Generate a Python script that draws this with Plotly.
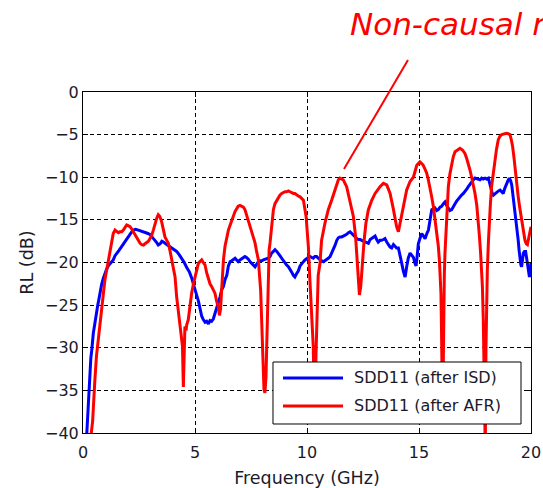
import plotly.graph_objects as go

# SDD11 after ISD (blue): frequency in GHz, return loss in dB
isd_freq = [0.15, 0.2, 0.24, 0.28, 0.31, 0.35, 0.39, 0.43, 0.46, 0.52, 0.56, 0.61, 0.66, 0.71, 0.76, 0.83,
            0.9, 0.98, 1.05, 1.13, 1.2, 1.28, 1.35, 1.43, 1.5, 1.6, 1.73, 1.85, 1.95, 2.05, 2.15, 2.25,
            2.35, 2.47, 2.6, 2.77, 2.9, 2.99, 3.1, 3.21, 3.3, 3.36, 3.45, 3.52, 3.59, 3.67, 3.74, 3.85,
            3.96, 4.07, 4.18, 4.3, 4.4, 4.52, 4.63, 4.75, 4.85, 4.93, 5.0, 5.07, 5.15, 5.22, 5.3, 5.37,
            5.45, 5.52, 5.6, 5.67, 5.74, 5.82, 5.89, 5.97, 6.04, 6.12, 6.19, 6.27, 6.34, 6.42, 6.49, 6.57,
            6.64, 6.72, 6.79, 6.86, 6.93, 7.01, 7.08, 7.16, 7.23, 7.3, 7.38, 7.45, 7.53, 7.6, 7.68, 7.75,
            7.83, 7.9, 7.98, 8.05, 8.13, 8.2, 8.27, 8.35, 8.42, 8.5, 8.57, 8.65, 8.72, 8.79, 8.87, 8.94,
            9.02, 9.09, 9.17, 9.24, 9.31, 9.39, 9.46, 9.54, 9.61, 9.69, 9.76, 9.84, 9.91, 9.99, 10.06, 10.13,
            10.21, 10.28, 10.35, 10.43, 10.5, 10.58, 10.65, 10.73, 10.8, 10.88, 10.95, 11.03, 11.1, 11.18, 11.25, 11.33,
            11.4, 11.47, 11.55, 11.62, 11.7, 11.77, 11.85, 11.92, 12.0, 12.07, 12.15, 12.22, 12.3, 12.37, 12.44, 12.52,
            12.59, 12.67, 12.74, 12.82, 12.89, 12.97, 13.04, 13.11, 13.18, 13.26, 13.33, 13.41, 13.48, 13.56, 13.63, 13.71,
            13.78, 13.86, 13.93, 14.0, 14.08, 14.15, 14.23, 14.3, 14.38, 14.45, 14.52, 14.6, 14.68, 14.75, 14.82, 14.87,
            14.92, 14.97, 15.04, 15.12, 15.2, 15.27, 15.35, 15.42, 15.5, 15.57, 15.64, 15.71, 15.79, 15.86, 15.94, 16.01,
            16.09, 16.16, 16.23, 16.31, 16.38, 16.46, 16.53, 16.61, 16.68, 16.76, 16.83, 16.9, 16.98, 17.05, 17.13, 17.2,
            17.28, 17.35, 17.43, 17.5, 17.58, 17.65, 17.72, 17.8, 17.87, 17.95, 18.02, 18.1, 18.15, 18.2, 18.26, 18.32,
            18.4, 18.47, 18.55, 18.62, 18.69, 18.76, 18.83, 18.91, 18.97, 19.03, 19.09, 19.14, 19.21, 19.27, 19.33, 19.38,
            19.43, 19.47, 19.51, 19.55, 19.58, 19.62, 19.66, 19.71, 19.76, 19.8, 19.84, 19.88, 19.93, 19.97, 20.0]
isd_db = [-41.0, -38.5, -36.1, -34.0, -32.6, -31.2, -30.3, -29.0, -28.3, -27.3, -26.5, -26.0, -25.0, -24.3, -23.4, -22.6,
          -21.9, -21.2, -20.8, -20.4, -20.2, -19.9, -19.7, -19.2, -18.9, -18.6, -18.1, -17.6, -17.2, -16.9, -16.5, -16.2,
          -16.1, -16.2, -16.3, -16.5, -16.6, -16.7, -17.0, -17.4, -17.7, -17.95, -17.8, -17.5, -17.6, -17.8, -17.9, -18.1,
          -18.3, -18.5, -18.7, -19.1, -19.5, -20.0, -20.6, -21.1, -21.8, -22.6, -23.4, -23.8, -24.5, -25.3, -26.3, -26.7,
          -27.0, -26.9, -27.2, -26.8, -26.9, -26.6, -26.0, -25.5, -24.6, -24.0, -23.2, -22.8, -22.0, -21.5, -20.4, -19.9,
          -19.8, -19.6, -19.5, -19.7, -19.9, -19.7, -19.6, -19.4, -19.3, -19.4, -19.6, -19.9, -20.1, -20.3, -20.5, -20.2,
          -19.9, -19.8, -19.8, -19.7, -19.6, -19.6, -19.5, -19.3, -18.9, -18.7, -18.5, -18.7, -18.9, -19.2, -19.5, -19.8,
          -20.0, -20.3, -20.5, -20.9, -21.1, -21.5, -21.7, -21.3, -21.0, -20.4, -20.1, -19.9, -19.7, -19.5, -19.4, -19.3,
          -19.4, -19.5, -19.3, -19.3, -19.5, -19.7, -19.8, -19.9, -19.8, -19.7, -19.5, -19.3, -18.9, -18.5, -18.0, -17.4,
          -17.1, -17.0, -17.0, -16.9, -16.8, -16.7, -16.5, -16.4, -16.6, -16.8, -17.0, -17.2, -17.3, -17.3, -17.4, -17.5,
          -17.6, -17.7, -17.75, -17.3, -17.2, -17.0, -16.9, -17.3, -17.6, -17.4, -17.4, -17.3, -17.2, -17.6, -17.95, -18.2,
          -18.3, -17.9, -18.1, -18.3, -18.3, -19.0, -20.1, -21.0, -21.7, -20.5, -19.5, -18.9, -19.2, -19.4, -20.1, -20.4,
          -19.2, -17.8, -17.2, -16.6, -16.9, -17.2, -16.6, -16.2, -14.9, -13.8, -13.7, -13.6, -13.9, -13.8, -13.5, -13.4,
          -13.1, -12.9, -13.3, -13.6, -13.9, -13.8, -13.4, -13.1, -12.8, -12.5, -12.3, -12.1, -11.9, -11.7, -11.4, -11.1,
          -10.8, -10.5, -10.3, -10.1, -10.2, -10.3, -10.3, -10.1, -10.2, -10.1, -10.2, -10.1, -10.7, -11.3, -11.8, -12.1,
          -11.9, -11.7, -11.6, -11.5, -11.7, -11.9, -11.3, -10.7, -10.4, -10.1, -10.4, -10.9, -12.3, -13.6, -15.0, -16.2,
          -17.4, -18.6, -19.7, -20.3, -20.5, -19.6, -18.9, -18.7, -18.7, -19.4, -20.1, -21.0, -21.7, -20.8, -20.0]

# SDD11 after AFR (red)
afr_freq = [0.3, 0.36, 0.43, 0.46, 0.53, 0.6, 0.68, 0.75, 0.83, 0.9, 0.98, 1.05, 1.13, 1.2, 1.28, 1.35,
            1.43, 1.5, 1.58, 1.65, 1.73, 1.8, 1.88, 1.95, 2.03, 2.1, 2.18, 2.25, 2.32, 2.4, 2.47, 2.55,
            2.62, 2.7, 2.77, 2.85, 2.92, 2.99, 3.07, 3.14, 3.21, 3.29, 3.36, 3.43, 3.51, 3.59, 3.66, 3.74,
            3.81, 3.89, 3.96, 4.04, 4.11, 4.18, 4.26, 4.33, 4.4, 4.44, 4.48, 4.51, 4.55, 4.6, 4.63, 4.7,
            4.78, 4.85, 4.93, 5.0, 5.07, 5.15, 5.22, 5.3, 5.37, 5.45, 5.52, 5.6, 5.67, 5.74, 5.82, 5.89,
            5.97, 6.04, 6.09, 6.14, 6.19, 6.23, 6.27, 6.34, 6.42, 6.49, 6.57, 6.64, 6.72, 6.79, 6.86, 6.93,
            7.01, 7.08, 7.16, 7.23, 7.3, 7.38, 7.45, 7.53, 7.6, 7.68, 7.75, 7.83, 7.88, 7.93, 7.98, 8.02,
            8.08, 8.12, 8.17, 8.2, 8.23, 8.27, 8.31, 8.35, 8.42, 8.5, 8.57, 8.65, 8.72, 8.79, 8.87, 8.94,
            9.02, 9.09, 9.17, 9.24, 9.31, 9.39, 9.46, 9.54, 9.61, 9.69, 9.84, 9.96, 10.06, 10.13, 10.21, 10.28,
            10.32, 10.36, 10.4, 10.45, 10.5, 10.58, 10.65, 10.8, 10.95, 11.1, 11.25, 11.4, 11.47, 11.62, 11.77, 11.92,
            12.07, 12.17, 12.25, 12.29, 12.34, 12.4, 12.47, 12.55, 12.63, 12.74, 12.89, 13.04, 13.26, 13.41, 13.56, 13.71,
            13.86, 14.0, 14.08, 14.15, 14.3, 14.45, 14.6, 14.75, 14.9, 15.04, 15.12, 15.19, 15.26, 15.34, 15.41, 15.49,
            15.56, 15.64, 15.71, 15.79, 15.86, 15.91, 15.95, 15.98, 16.0, 16.02, 16.05, 16.08, 16.1, 16.13, 16.16, 16.2,
            16.23, 16.27, 16.31, 16.38, 16.46, 16.53, 16.61, 16.7, 16.83, 16.94, 17.05, 17.13, 17.2, 17.28, 17.35, 17.43,
            17.5, 17.58, 17.65, 17.7, 17.75, 17.8, 17.83, 17.87, 17.9, 17.93, 17.96, 17.99, 18.02, 18.05, 18.1, 18.14,
            18.19, 18.24, 18.31, 18.39, 18.46, 18.54, 18.61, 18.69, 18.8, 18.91, 18.98, 19.06, 19.12, 19.18, 19.24, 19.29,
            19.36, 19.43, 19.5, 19.58, 19.66, 19.73, 19.79, 19.84, 19.9, 19.96, 20.0]
afr_db = [-41.0, -40.2, -38.6, -36.9, -33.8, -31.0, -29.1, -27.0, -25.2, -23.5, -22.0, -21.0, -19.7, -18.8, -17.6, -16.6,
          -16.2, -16.3, -16.5, -16.4, -16.4, -16.2, -15.9, -15.6, -15.7, -15.8, -16.1, -16.4, -16.8, -17.2, -17.5, -17.75,
          -17.9, -17.95, -17.8, -17.6, -17.5, -17.2, -16.8, -16.2, -15.5, -14.8, -14.4, -14.6, -15.2, -16.0, -17.0, -17.4,
          -17.75, -18.7, -19.7, -20.7, -21.7, -24.0, -25.9, -27.5, -28.7, -29.8, -34.6, -32.0, -27.5, -28.0, -27.3, -26.7,
          -24.6, -23.6, -22.5, -21.7, -21.0, -20.1, -19.9, -19.7, -20.0, -20.3, -21.2, -22.0, -22.5, -22.8, -23.3, -23.6,
          -24.6, -25.2, -26.2, -25.5, -23.2, -21.0, -19.7, -18.1, -17.0, -16.2, -15.6, -15.0, -14.5, -14.0, -13.7, -13.4,
          -13.3, -13.4, -13.5, -13.8, -14.4, -15.0, -15.6, -16.2, -16.9, -17.7, -18.7, -19.7, -21.5, -23.2, -27.1, -31.8,
          -34.9, -35.3, -33.4, -30.0, -26.4, -20.5, -18.5, -17.7, -15.4, -13.8, -13.1, -12.7, -12.4, -12.1, -11.9, -11.8,
          -11.7, -11.7, -11.6, -11.7, -11.8, -11.9, -11.9, -12.1, -12.2, -12.3, -12.7, -14.6, -18.1, -22.1, -26.0, -29.9,
          -36.0, -38.0, -31.0, -24.0, -21.5, -20.1, -17.4, -15.4, -13.8, -12.7, -11.5, -10.3, -10.1, -10.3, -11.1, -12.7,
          -14.6, -17.0, -20.1, -22.4, -23.8, -22.8, -20.1, -17.4, -15.4, -13.8, -12.7, -11.9, -11.1, -10.7, -10.9, -11.9,
          -13.8, -15.8, -16.4, -15.4, -13.4, -11.5, -10.5, -10.0, -8.6, -8.2, -8.4, -8.6, -9.0, -9.5, -10.2, -11.1,
          -12.2, -13.4, -14.8, -16.2, -18.0, -19.7, -22.0, -23.6, -27.0, -32.0, -37.0, -33.0, -26.0, -21.5, -18.9, -17.0,
          -15.0, -13.0, -11.1, -9.6, -8.4, -7.6, -7.0, -6.8, -6.6, -6.8, -7.2, -7.8, -8.4, -9.2, -10.0, -10.9,
          -11.9, -13.3, -15.0, -17.0, -18.9, -21.0, -22.8, -26.7, -32.0, -42.0, -42.0, -30.0, -24.0, -20.9, -17.5, -15.0,
          -13.0, -11.1, -9.5, -8.0, -6.7, -5.6, -5.2, -5.0, -4.9, -4.85, -4.9, -5.0, -5.6, -6.4, -7.7, -9.1,
          -10.7, -12.3, -13.6, -15.0, -16.3, -17.4, -17.8, -17.9, -17.1, -16.2, -15.8]

series_names = ["SDD11 (after ISD)", "SDD11 (after AFR)"]
series_colors = ["#0000FF", "#FF0000"]
x_ticks = [0, 5, 10, 15, 20]
y_ticks = [0, -5, -10, -15, -20, -25, -30, -35, -40]

FONT = "DejaVu Sans"
TXT = "#1a1a2a"

fig = go.Figure()
for fx, fy, name, color in [(isd_freq, isd_db, series_names[0], series_colors[0]),
                            (afr_freq, afr_db, series_names[1], series_colors[1])]:
    fig.add_trace(go.Scatter(x=fx, y=fy, mode="lines", name=name,
                             line=dict(color=color, width=3), showlegend=False))

# Box-style legend in the lower right of the axes
shapes = [
    dict(type="rect", xref="paper", yref="paper", x0=0.4241, x1=0.9777, y0=0.0264, y1=0.2082,
         line=dict(color="black", width=1), fillcolor="white", layer="above"),
]
annotations = []
legend_rows = [0.1613, 0.0792]
for row_y, name, color in zip(legend_rows, series_names, series_colors):
    shapes.append(dict(type="line", xref="paper", yref="paper", x0=0.4464, x1=0.5804,
                       y0=row_y, y1=row_y, line=dict(color=color, width=3), layer="above"))
    annotations.append(dict(xref="paper", yref="paper", x=0.6004, y=row_y, text=name,
                            showarrow=False, xanchor="left", yanchor="middle",
                            font=dict(family=FONT, size=16, color=TXT)))

# Callout pointing at the first ripple peak
shapes.append(dict(type="line", xref="paper", yref="paper", x0=0.5826, y0=0.7742, x1=0.7254, y1=1.0938,
                   line=dict(color="#FF0000", width=2)))
annotations.append(dict(xref="paper", yref="paper", x=0.5915, y=1.199, text="Non-causal response",
                        showarrow=False, xanchor="left", yanchor="middle",
                        font=dict(family=FONT, size=31, color="#FF0000", style="italic")))

axis_common = dict(showline=True, linecolor="black", linewidth=1, mirror="ticks",
                   ticks="inside", ticklen=5, tickcolor="black", automargin=False,
                   showgrid=True, gridcolor="black", gridwidth=1, griddash="4px,3px",
                   zeroline=False, tickfont=dict(family=FONT, size=16, color=TXT))

fig.update_layout(
    width=543, height=488,
    margin=dict(l=83, r=12, t=92, b=55),
    paper_bgcolor="white", plot_bgcolor="white",
    showlegend=False,
    xaxis=dict(range=[0, 20], tickvals=x_ticks, ticklabelstandoff=5,
               title=dict(text="Frequency (GHz)", font=dict(family=FONT, size=17.5, color=TXT), standoff=10),
               **axis_common),
    yaxis=dict(range=[-40, 0], tickvals=y_ticks,
               title=dict(text="RL (dB)", font=dict(family=FONT, size=17.5, color=TXT), standoff=6),
               **axis_common),
    shapes=shapes,
    annotations=annotations,
)

fig.write_html("out.html")
